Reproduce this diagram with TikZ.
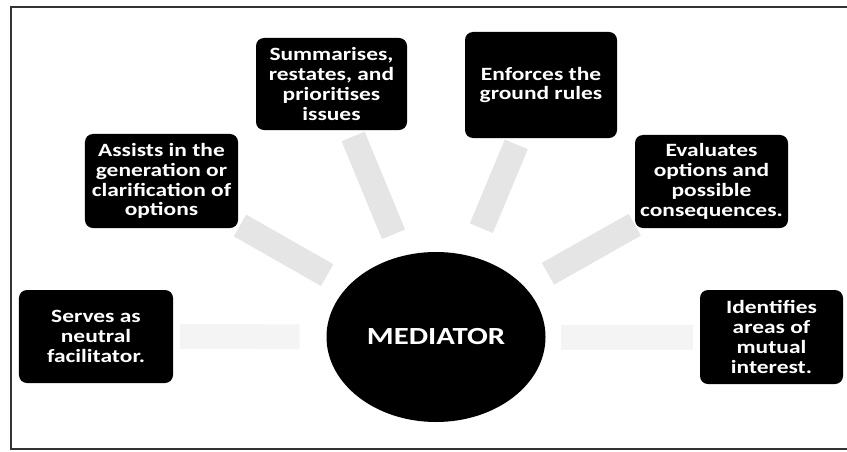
\documentclass[tikz,border=0pt]{standalone}
\usepackage{fontspec}
\setmainfont{Carlito}[FakeStretch=1.25]
\usetikzlibrary{shapes.geometric}

\begin{document}
\begin{tikzpicture}[x=0.03cm, y=-0.03cm,
    duty/.style={fill=black, rounded corners=0.24cm, text=white, align=center, inner sep=0pt, font=\fontsize{16}{17}\selectfont\bfseries},
    hub/.style={ellipse, fill=black, text=white, inner sep=0pt, minimum width=6.57cm, minimum height=5.1cm, font=\fontsize{21}{24}\selectfont\bfseries},
    band/.style={line width=0.75cm, draw=gray!20},
    flat/.style={line width=0.75cm, draw=gray!9},
    frame/.style={draw=black!80, line width=0.06cm}
]

\useasboundingbox (0,0) rectangle (847,451);

% Frame (open on the right)
\draw[frame] (847,7) -- (11,7) -- (11,449) -- (847,449);

% Centre
\node[hub] (med) at (436,337) {MEDIATOR};

% Roles
\node[duty, minimum width=4.62cm, minimum height=2.79cm] (serve) at (96,336.5) {Serves as\\neutral\\facilitator.};
\node[duty, minimum width=4.59cm, minimum height=2.82cm] (assist) at (161.5,181) {Assists in the\\generation or\\clarification of\\options};
\node[duty, minimum width=4.53cm, minimum height=2.76cm] (summ) at (331.5,84) {Summarises,\\restates, and\\prioritises\\issues};
\node[duty, minimum width=4.56cm, minimum height=3.18cm] (rules) at (541,85) {Enforces the\\ground rules};
\node[duty, minimum width=4.59cm, minimum height=2.79cm] (eval) at (711.5,181.5) {Evaluates\\options and\\possible\\consequences.};
\node[duty, minimum width=4.29cm, minimum height=2.82cm] (ident) at (771.5,337) {Identifies\\areas of\\mutual\\interest.};

% Grey bands from the centre
\draw[flat, shorten <=0.8cm, shorten >=0.2cm] (med) -- (serve);
\draw[band, shorten <=0.7cm, shorten >=0.06cm] (med) -- (assist);
\draw[band, shorten <=0.7cm, shorten >=0.2cm] (med) -- (summ);
\draw[band, shorten <=0.9cm, shorten >=0.2cm] (med) -- (rules);
\draw[band, shorten <=0.8cm, shorten >=0cm] (med) -- (eval);
\draw[flat, shorten <=0.45cm, shorten >=0.2cm] (med) -- (ident);

\end{tikzpicture}
\end{document}
